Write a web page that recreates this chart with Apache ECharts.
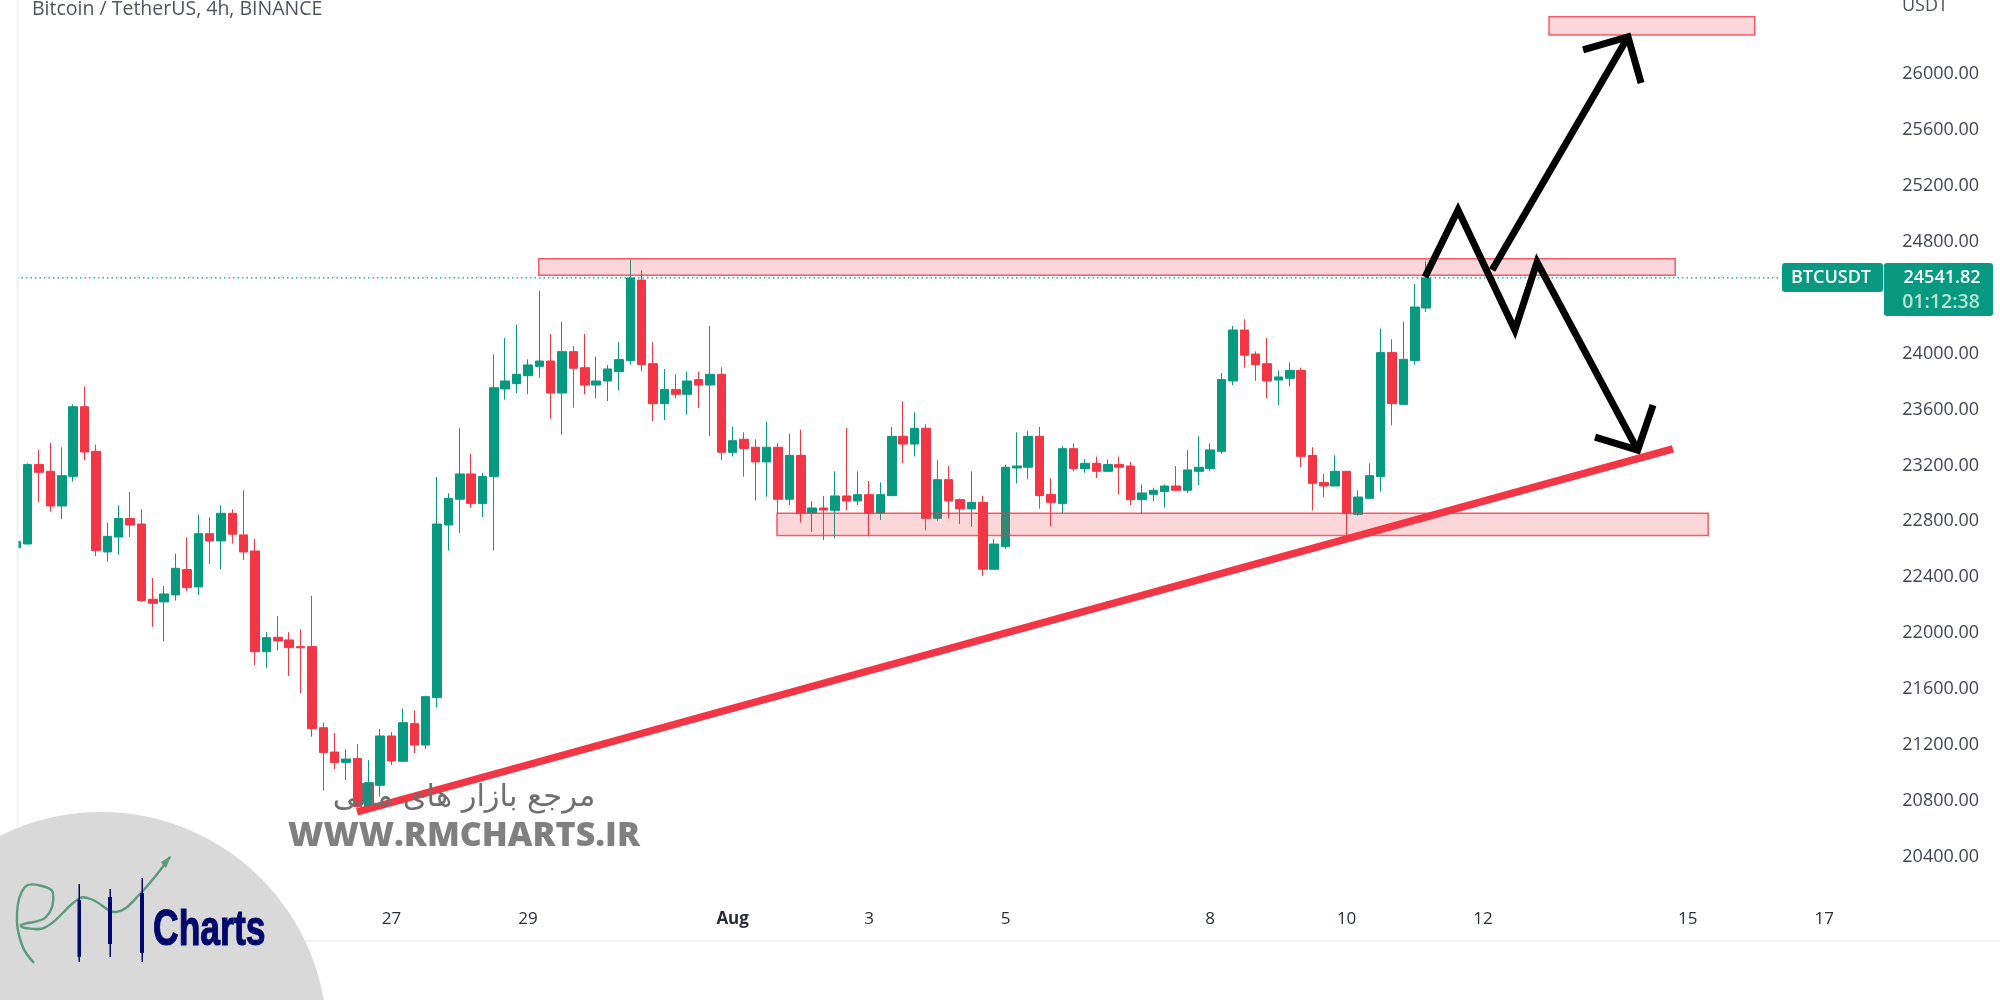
<!DOCTYPE html>
<html>
<head>
<meta charset="utf-8">
<title>BTCUSDT 4h</title>
<style>
  html, body { margin: 0; padding: 0; background: #fff; }
  #chart { width: 2000px; height: 1000px; }
</style>
<script src="https://cdn.jsdelivr.net/npm/echarts@6/dist/echarts.min.js"></script>
</head>
<body>
<div id="chart"></div>
<script>
// 4h bars
var opens = [22612,22638,23206,23158,22910,23122,23620,23301,22581,22688,22820,22781,22243,22224,22274,22455,22331,22712,22660,22858,22703,22588,21868,21971,21952,
  21904,21904,21324,21150,21076,21103,20760,20912,21265,21084,21353,21200,21539,22774,22958,23139,22927,23120,23747,23785,23842,23909,23947,23718,24014,
  23899,23775,23804,23871,23950,24526,23928,23642,23744,23709,23814,23775,23852,23294,23387,23330,23225,23330,22958,23272,22858,22896,22879,22982,22946,
  22991,22858,22984,23408,23353,23466,22822,23098,22955,22889,22936,22457,22619,23182,23187,23408,22993,22927,23320,23177,23215,23158,23206,23196,22955,
  22994,23013,23053,23022,23158,23177,23301,23804,24169,23997,23928,23811,23823,23880,23272,23079,23053,23158,22850,22965,23120,24007,23637,23950,24326];
var closes = [22655,23206,23151,22910,23127,23620,23296,22591,22693,22820,22774,22233,22214,22281,22464,22326,22712,22660,22858,22708,22581,21868,21968,21945,21897,
  21896,21317,21146,21076,21100,20760,20931,21265,21086,21360,21200,21546,22781,22965,23139,22927,23120,23756,23804,23852,23919,23947,23718,24014,23895,
  23775,23804,23890,23957,24541,23921,23642,23744,23709,23804,23775,23852,23294,23377,23322,23225,23330,22958,23272,22858,22896,22881,22982,22946,22991,
  22858,22991,23408,23353,23466,22822,23098,22946,22889,22936,22457,22638,23187,23196,23408,22984,22936,23320,23177,23215,23158,23206,23187,22955,23003,
  23022,23053,23022,23168,23187,23311,23814,24169,23988,23921,23804,23833,23880,23265,23072,23053,23158,22858,22974,23127,24007,23642,23959,24333,24541];
var lows = [22612,22638,22936,22870,22815,23084,23237,22552,22512,22562,22688,22224,22047,21942,22233,22302,22274,22495,22457,22641,22524,21771,21752,21876,21694,
  21570,21260,20874,21029,20950,20720,20760,20831,21057,21079,21143,21172,21470,22591,22715,22898,22831,22591,23671,23718,23709,23826,23535,23420,23613,
  23709,23680,23661,23737,23921,23873,23516,23525,23680,23563,23611,23411,23237,23265,23120,22948,22977,22860,22917,22791,22724,22667,22679,22879,22917,
  22698,22810,22984,23215,23265,22736,22803,22822,22781,22762,22409,22457,22603,23072,23101,22891,22765,22858,23158,23148,23110,23158,22993,22917,22858,
  22946,22898,23022,23003,23060,23158,23282,23775,23899,23806,23680,23630,23766,23187,22879,22974,23053,22698,22841,22965,23013,23487,23637,23921,24297];
var highs = [22655,23215,23311,23361,23330,23637,23766,23349,22791,22915,23010,22886,22395,22338,22569,22686,22848,22829,22915,22886,23022,22674,22007,22123,22007,
  22028,22268,21360,21286,21169,21208,21093,21315,21293,21460,21448,21553,23117,23001,23466,23282,23148,23995,24112,24207,23959,24450,24140,24228,24054,
  24140,23978,23919,24081,24674,24596,24081,23890,23852,23871,23871,24197,23902,23477,23437,23387,23513,23358,23427,23456,22943,22982,23158,23468,23158,
  23089,23079,23475,23659,23580,23494,23237,23196,22965,23158,22982,22674,23206,23437,23446,23475,23108,23339,23358,23244,23263,23244,23263,23225,23063,
  23041,23063,23196,23311,23408,23358,23861,24197,24245,24016,24112,23880,23938,23899,23330,23139,23272,23158,23022,23215,24178,24102,24228,24498,24660];

var barCount = 164; // includes the empty bars to the right of the last candle
var tickBars = [33, 45, 63, 75, 87, 105, 117, 129, 147, 159];
var tickLabels = ['27', '29', 'Aug', '3', '5', '8', '10', '12', '15', '17'];
var priceTicks = [20400, 20800, 21200, 21600, 22000, 22400, 22800, 23200, 23600, 24000, 24800, 25200, 25600, 26000]; // 24400 is hidden by the price tag
var lastPrice = 24541.82;

// drawings, in bar number and price
var zoneStart = [45.95, 66.9, 134.8];
var zoneEnd = [145.9, 148.8, 152.9];
var zoneTop = [24679, 22858, 26410];
var zoneBottom = [24560, 22698, 26279];

var trendBars = [29.96, 145.7];
var trendPrices = [20721, 23318];
var bearBars = [123.9, 126.8, 131.8, 133.75, 142.6];
var bearPrices = [24548, 25027, 24169, 24655, 23310];
var bearHeadBars = [138.85, 142.6, 143.95];
var bearHeadPrices = [23403, 23310, 23632];
var bullBars = [129.8, 141.75];
var bullPrices = [24598, 26265];
var bullHeadBars = [137.8, 141.75, 142.9];
var bullHeadPrices = [26172, 26265, 25936];

var UP = '#089981', DOWN = '#f23645';
var LABEL_FONT = '"Open Sans", sans-serif';

var categories = [];
for (var i = 0; i < barCount; i++) categories.push('bar' + i);

var candleData = opens.map(function (o, i) {
  return [o, closes[i], lows[i], highs[i]];
});

function pathSeries(bars, prices, color, width, type) {
  return {
    type: 'line',
    xAxisIndex: 1,
    yAxisIndex: 0,
    silent: true,
    symbol: 'none',
    z: type ? 1 : 6,
    data: bars.map(function (b, i) { return [b, prices[i]]; }),
    lineStyle: { color: color, width: width, type: type || 'solid', cap: 'butt', join: 'miter' }
  };
}

var chart = echarts.init(document.getElementById('chart'));

chart.setOption({
  animation: false,
  backgroundColor: '#fff',
  grid: { left: 10.65, right: 124.7, top: 0, bottom: 59 },
  xAxis: [{
    type: 'category',
    data: categories,
    boundaryGap: true,
    axisLine: { show: false },
    axisTick: { show: false },
    splitLine: { show: false },
    axisLabel: {
      inside: true,
      margin: 13,
      color: '#2a2e39',
      fontFamily: LABEL_FONT,
      fontSize: 17,
      interval: function (idx) { return tickBars.indexOf(idx) >= 0; },
      formatter: function (v, idx) {
        var t = tickLabels[tickBars.indexOf(idx)];
        return t === 'Aug' ? '{b|Aug}' : t;
      },
      rich: { b: { fontWeight: 'bold', fontFamily: LABEL_FONT, fontSize: 17, color: '#2a2e39' } }
    }
  }, {
    // same width as the bars, but it can take positions between two bars
    type: 'value',
    show: false,
    min: -0.5,
    max: barCount - 0.5
  }],
  yAxis: {
    type: 'value',
    position: 'right',
    min: 19798.3,
    max: 26529.3,
    scale: true,
    axisLine: { show: false },
    axisTick: { show: false },
    splitLine: { show: false },
    axisLabel: {
      margin: 27,
      color: '#434651',
      fontFamily: LABEL_FONT,
      fontSize: 18,
      customValues: priceTicks,
      formatter: function (v) { return v.toFixed(2); }
    }
  },
  series: [
    pathSeries([0.06, 155.1], [lastPrice, lastPrice], UP, 1.2, [1.5, 3]),
    {
      type: 'candlestick',
      xAxisIndex: 0,
      yAxisIndex: 0,
      silent: true,
      barWidth: 9,
      z: 3,
      data: candleData,
      itemStyle: {
        color: UP,
        color0: DOWN,
        borderColor: UP,
        borderColor0: DOWN,
        borderColorDoji: UP,
        borderWidth: 1
      }
    },
    {
      type: 'custom',
      xAxisIndex: 1,
      yAxisIndex: 0,
      silent: true,
      z: 5,
      data: zoneStart.map(function (s, i) { return [s, zoneEnd[i], zoneTop[i], zoneBottom[i]]; }),
      encode: { x: [0, 1], y: [2, 3] },
      renderItem: function (params, api) {
        var a = api.coord([api.value(0), api.value(2)]);
        var b = api.coord([api.value(1), api.value(3)]);
        return {
          type: 'rect',
          shape: { x: a[0], y: a[1], width: b[0] - a[0], height: b[1] - a[1] },
          style: { fill: 'rgba(242,54,69,0.2)', stroke: 'rgba(242,54,69,0.8)', lineWidth: 1.5 }
        };
      }
    },
    pathSeries(trendBars, trendPrices, DOWN, 7.5),
    pathSeries(bearBars, bearPrices, '#000', 7),
    pathSeries(bearHeadBars, bearHeadPrices, '#000', 7),
    pathSeries(bullBars, bullPrices, '#000', 7),
    pathSeries(bullHeadBars, bullHeadPrices, '#000', 7)
  ],
  graphic: [
    // left edge of the pane and the line under the time scale
    { type: 'rect', z: 20, silent: true, shape: { x: 0, y: 0, width: 17, height: 1000 }, style: { fill: '#fff' } },
    { type: 'rect', z: 21, silent: true, shape: { x: 16.5, y: 0, width: 2, height: 941 }, style: { fill: '#eff1f4' } },
    { type: 'rect', z: 21, silent: true, shape: { x: 0, y: 940, width: 2000, height: 2 }, style: { fill: '#f0f1f3' } },

    // header
    { type: 'text', z: 30, silent: true, x: 32, y: 9, style: { text: 'Bitcoin / TetherUS, 4h, BINANCE', fill: '#50535e', font: '19.5px ' + LABEL_FONT, verticalAlign: 'middle' } },
    { type: 'text', z: 30, silent: true, x: 1902, y: 6, style: { text: 'USDT', fill: '#50535e', font: '18px ' + LABEL_FONT, verticalAlign: 'middle' } },

    // price tags
    { type: 'rect', z: 30, silent: true, shape: { x: 1782, y: 263, width: 101, height: 29, r: 3 }, style: { fill: UP } },
    { type: 'rect', z: 30, silent: true, shape: { x: 1884, y: 263, width: 109, height: 53, r: 3 }, style: { fill: UP } },
    { type: 'text', z: 31, silent: true, x: 1831, y: 278, style: { text: 'BTCUSDT', fill: '#fff', font: '600 18px ' + LABEL_FONT, align: 'center', verticalAlign: 'middle' } },
    { type: 'text', z: 31, silent: true, x: 1942, y: 278, style: { text: '24541.82', fill: '#fff', font: '600 18px ' + LABEL_FONT, align: 'center', verticalAlign: 'middle' } },
    { type: 'text', z: 31, silent: true, x: 1941, y: 302, style: { text: '01:12:38', fill: '#b5e3d6', font: '600 19.5px ' + LABEL_FONT, align: 'center', verticalAlign: 'middle' } },

    // watermark
    { type: 'text', z: 40, silent: true, x: 464, y: 798, style: { text: 'مرجع بازار های مالی', fill: '#6f6f6f', font: '30.5px "DejaVu Sans", sans-serif', align: 'center', verticalAlign: 'middle' } },
    { type: 'text', z: 40, silent: true, x: 464, y: 836, style: { text: 'WWW.RMCHARTS.IR', fill: '#808080', font: '800 34px "Open Sans", sans-serif', align: 'center', verticalAlign: 'middle' } },

    // logo
    { type: 'circle', z: 50, silent: true, shape: { cx: 101, cy: 1038, r: 226 }, style: { fill: '#d9d9d9' } },
    { type: 'polyline', z: 51, silent: true, shape: { smooth: 0.4, points: [[34, 963], [22, 945], [17, 913], [25, 887], [42, 886], [53, 893], [46, 917], [21, 925], [25, 928], [46, 927], [80, 898], [93, 900], [116, 912], [139, 895], [170, 857]] }, style: { fill: 'none', stroke: '#5c9a7c', lineWidth: 2.4 } },
    { type: 'polygon', z: 51, silent: true, shape: { points: [[171, 856], [161, 862], [166, 868]] }, style: { fill: '#5c9a7c' } },
    { type: 'rect', z: 52, silent: true, shape: { x: 78.5, y: 884, width: 1.5, height: 78 }, style: { fill: '#00096b' } },
    { type: 'rect', z: 52, silent: true, shape: { x: 77.5, y: 900, width: 3.5, height: 57 }, style: { fill: '#00096b' } },
    { type: 'rect', z: 52, silent: true, shape: { x: 109.5, y: 889, width: 1.5, height: 68 }, style: { fill: '#00096b' } },
    { type: 'rect', z: 52, silent: true, shape: { x: 108, y: 897, width: 4, height: 47 }, style: { fill: '#00096b' } },
    { type: 'rect', z: 52, silent: true, shape: { x: 141.5, y: 878, width: 1.5, height: 84 }, style: { fill: '#00096b' } },
    { type: 'rect', z: 52, silent: true, shape: { x: 140, y: 893, width: 4, height: 60 }, style: { fill: '#00096b' } },
    { type: 'text', z: 52, silent: true, x: 153, y: 931, scaleX: 0.71, style: { text: 'Charts', fill: '#00096b', stroke: '#00096b', lineWidth: 1.2, font: 'bold 50px "Liberation Sans Narrow", "Liberation Sans", sans-serif', verticalAlign: 'middle' } }
  ]
});
</script>
</body>
</html>
